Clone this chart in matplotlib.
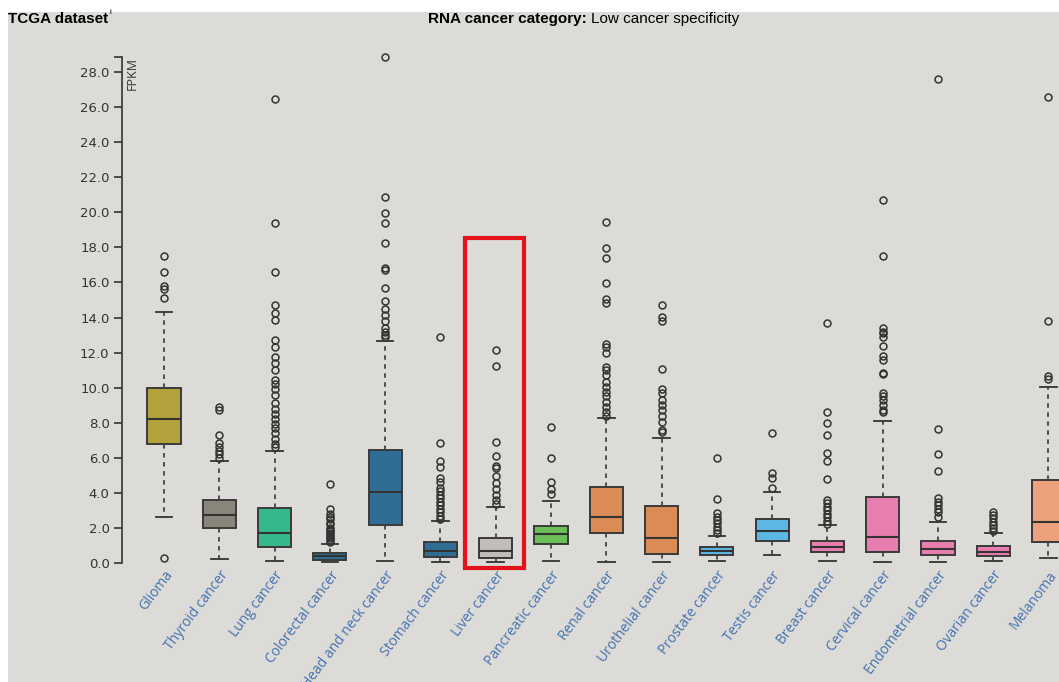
import matplotlib.pyplot as plt
from matplotlib.patches import Rectangle

# Cancer types along the x axis
cancers = ['Glioma', 'Thyroid cancer', 'Lung cancer', 'Colorectal cancer',
           'Head and neck cancer', 'Stomach cancer', 'Liver cancer',
           'Pancreatic cancer', 'Renal cancer', 'Urothelial cancer',
           'Prostate cancer', 'Testis cancer', 'Breast cancer',
           'Cervical cancer', 'Endometrial cancer', 'Ovarian cancer', 'Melanoma']

colors = ['#b3a23b', '#8a857a', '#35b98c', '#2f6d94', '#2f6d94', '#2f6d94',
          '#c3bdb9', '#6cbf56', '#db8c56', '#db8c56', '#5cb7e4', '#5cb7e4',
          '#e87db0', '#e87db0', '#e87db0', '#e87db0', '#eda07c']

# FPKM box statistics
q1 = [6.8, 1.98, 0.93, 0.17, 2.18, 0.34, 0.27, 1.06, 1.69, 0.51,
      0.47, 1.24, 0.61, 0.64, 0.44, 0.40, 1.18]
median = [8.2, 2.74, 1.73, 0.42, 4.07, 0.67, 0.70, 1.65, 2.64, 1.41,
          0.68, 1.84, 0.93, 1.50, 0.80, 0.65, 2.32]
q3 = [10.0, 3.59, 3.12, 0.59, 6.43, 1.18, 1.44, 2.11, 4.33, 3.25,
      0.89, 2.49, 1.24, 3.78, 1.24, 0.97, 4.73]
whisker_lo = [2.6, 0.23, 0.11, 0.04, 0.10, 0.06, 0.04, 0.13, 0.06, 0.04,
              0.13, 0.47, 0.13, 0.06, 0.06, 0.13, 0.27]
whisker_hi = [14.3, 5.8, 6.4, 1.08, 12.68, 2.38, 3.19, 3.55, 8.25, 7.11,
              1.54, 4.05, 2.15, 8.11, 2.36, 1.71, 10.02]

outliers = [
    [17.5, 16.6, 15.8, 15.6, 15.1, 0.3],
    [8.9, 8.7, 7.3, 6.84, 6.6, 6.4, 6.2, 6.0],
    [26.45, 19.37, 16.61, 14.71, 14.23, 13.85, 12.71, 12.33, 11.76, 11.4,
     11.0, 10.43, 10.2, 9.9, 9.6, 9.1, 8.8, 8.5, 8.2, 7.9, 7.7, 7.4, 7.1,
     6.8, 6.6],
    [4.52, 3.06, 2.8, 2.6, 2.5, 2.3, 2.2, 2.0, 1.9, 1.8, 1.7, 1.6, 1.5,
     1.4, 1.3, 1.2],
    [28.87, 20.88, 19.97, 19.4, 18.23, 16.8, 16.7, 15.66, 14.94, 14.5,
     14.14, 13.8, 13.38, 13.2, 13.0, 12.9],
    [12.9, 6.86, 5.82, 5.5, 4.83, 4.6, 4.3, 4.1, 3.9, 3.7, 3.5, 3.3, 3.1,
     2.9, 2.7, 2.5],
    [12.14, 11.23, 6.92, 6.08, 5.55, 5.44, 4.98, 4.58, 4.2, 3.88, 3.6, 3.36],
    [7.74, 5.99, 4.6, 4.24, 3.95],
    [19.42, 17.98, 17.37, 15.95, 15.03, 14.85, 12.49, 12.3, 11.96, 11.19,
     11.0, 10.7, 10.34, 10.05, 9.77, 9.5, 9.2, 8.9, 8.6, 8.38],
    [14.69, 14.04, 13.8, 11.08, 9.9, 9.7, 9.3, 9.0, 8.7, 8.4, 8.05, 7.58,
     7.45],
    [5.97, 3.65, 2.83, 2.64, 2.45, 2.26, 2.07, 1.88, 1.69],
    [7.39, 5.15, 4.83, 4.3],
    [13.7, 8.63, 8.0, 7.3, 6.25, 5.8, 4.77, 3.59, 3.4, 3.2, 3.0, 2.8, 2.6,
     2.4, 2.25],
    [20.7, 17.5, 13.38, 13.2, 13.1, 12.87, 12.37, 11.8, 11.6, 10.85, 10.8,
     9.67, 9.5, 9.3, 9.0, 8.7, 8.6],
    [27.6, 7.62, 6.23, 5.25, 3.69, 3.5, 3.3, 3.1, 2.9, 2.65],
    [2.93, 2.74, 2.55, 2.36, 2.17, 1.98, 1.8],
    [26.6, 13.81, 10.66, 10.47],
]

yticks = [0, 2, 4, 6, 8, 10, 12, 14, 16, 18, 20, 22, 24, 26, 28]

bg = '#dcdbd7'
fig = plt.figure(figsize=(10.59, 6.82), dpi=100, facecolor='white')
fig.patches.append(Rectangle((8 / 1059, 0), 1, 1 - 12 / 682,
                             transform=fig.transFigure, facecolor=bg,
                             edgecolor='none', zorder=-10))

ax = fig.add_axes([122 / 1059, 0.159, 1 - 122 / 1059, 0.774])
ax.set_facecolor('none')

stats = []
for i in range(len(cancers)):
    stats.append(dict(med=median[i], q1=q1[i], q3=q3[i],
                      whislo=whisker_lo[i], whishi=whisker_hi[i],
                      fliers=outliers[i]))

bp = ax.bxp(stats, positions=range(len(cancers)), widths=0.6,
            capwidths=0.3, patch_artist=True,
            boxprops=dict(edgecolor='#3a3a3a', linewidth=1.4),
            medianprops=dict(color='#333333', linewidth=1.5),
            whiskerprops=dict(color='#444444', linewidth=1.3,
                              linestyle=(0, (2.5, 2.5))),
            capprops=dict(color='#333333', linewidth=1.3),
            flierprops=dict(marker='o', markerfacecolor='none',
                            markeredgecolor='#333333', markersize=5,
                            markeredgewidth=1.1))
for box, c in zip(bp['boxes'], colors):
    box.set_facecolor(c)

# red frame around liver cancer
ax.add_patch(Rectangle((5.45, -0.29), 1.06, 18.82, fill=False,
                       edgecolor='#e3121b', linewidth=3, zorder=5,
                       clip_on=False))

ax.set_xlim(-0.76, 16.19)
ax.set_ylim(-0.6, 29.5)

for s in ['top', 'right', 'bottom']:
    ax.spines[s].set_visible(False)
ax.spines['left'].set_bounds(0, 28.85)
ax.spines['left'].set_color('#333333')
ax.spines['left'].set_linewidth(1.2)

ax.set_yticks(yticks)
ax.set_yticklabels(['%.1f' % v for v in yticks])
ax.set_yticks([28.85], minor=True)
ax.tick_params(axis='y', which='both', direction='out', length=6, width=1.2,
               color='#333333', labelsize=9.5, labelcolor='#333333', pad=3)

ax.set_xticks(range(len(cancers)))
ax.set_xticklabels(cancers, rotation=53, ha='right', va='top',
                   rotation_mode='anchor', color='#4472b0', fontsize=10,
                   family='Open Sans')
ax.tick_params(axis='x', length=0, pad=-4)

ax.text(-0.58, 28.85, 'FPKM', rotation=90, ha='center', va='top',
        fontsize=9, color='#333333', family='Open Sans')

fig.text(8 / 1059, 1 - 19 / 682, 'TCGA dataset', fontsize=11,
         weight='bold', family='Liberation Sans', va='center')
fig.text(110 / 1059, 1 - 12 / 682, 'i', fontsize=6,
         family='Liberation Sans', va='center')
fig.text(587 / 1059, 1 - 19 / 682, 'RNA cancer category:', fontsize=11,
         weight='bold', family='Liberation Sans', va='center', ha='right')
fig.text(591 / 1059, 1 - 19 / 682, 'Low cancer specificity', fontsize=11,
         family='Liberation Sans', va='center', ha='left')

fig.savefig('out.png', dpi=100, facecolor=fig.get_facecolor())
